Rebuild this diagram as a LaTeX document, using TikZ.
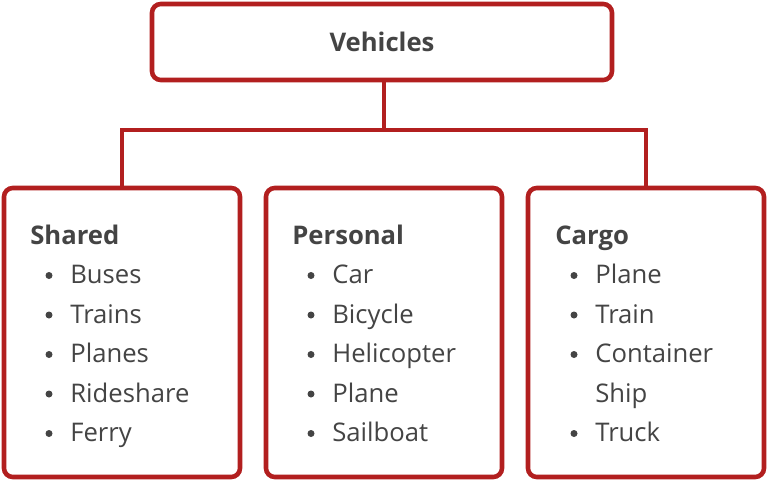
\documentclass[tikz,border=0pt]{standalone}
\usepackage{fontspec}
\setmainfont{Open Sans}
\usetikzlibrary{positioning}
\definecolor{boxred}{HTML}{B21F1F}
\definecolor{txtgray}{HTML}{444444}
\begin{document}
\begin{tikzpicture}[x=0.02cm,y=-0.02cm]

% Define styles
\tikzstyle{box}=[draw=boxred, line width=2.6pt, rounded corners=5pt, fill=white]
\tikzstyle{head}=[font=\fontsize{14.6}{17}\selectfont\bfseries, text=txtgray, anchor=base west, inner sep=0pt]
\tikzstyle{item}=[font=\fontsize{14.6}{17}\selectfont, text=txtgray, anchor=base west, inner sep=0pt]
\tikzstyle{link}=[draw=boxred, line width=2.6pt]

\useasboundingbox (0,0) rectangle (768,481);

% Top box
\node[box, minimum width=460*0.02cm, minimum height=76*0.02cm] (top) at (382,42) {};
\node[head, anchor=center] (toplabel) at (top.center) {Vehicles};

% Category boxes
\foreach \n/\x in {shared/122, personal/384, cargo/646} {
  \node[box, minimum width=236*0.02cm, minimum height=289*0.02cm] (\n) at (\x,332.5) {};
}

% Connectors
\coordinate (split) at (384,130);
\draw[link] (top.south -| split) -- (split);
\draw[link] (shared.north) |- (split) -| (cargo.north);

% Texts
\foreach \n/\x/\title in {shared/30/Shared, personal/292/Personal, cargo/555/Cargo} {
  \node[head] (\n-title) at (\x,244) {\title};
}
\def\lineh{39.5}
\foreach \n/\x/\items in {shared/30/{Buses,Trains,Planes,Rideshare,Ferry},
                          personal/292/{Car,Bicycle,Helicopter,Plane,Sailboat}} {
  \foreach \t [count=\i] in \items {
    \node[item] (\n-\i) at (\x+40,244+\i*\lineh) {\t};
    \fill[txtgray] (\x+19,236+\i*\lineh) circle (3.5);
  }
}
\foreach \t/\i/\b in {Plane/1/1, Train/2/1, Container/3/1, Ship/4/0, Truck/5/1} {
  \node[item] (cargo-\i) at (595,244+\i*\lineh) {\t};
  \ifnum\b=1 \fill[txtgray] (574,236+\i*\lineh) circle (3.5); \fi
}

\end{tikzpicture}
\end{document}
